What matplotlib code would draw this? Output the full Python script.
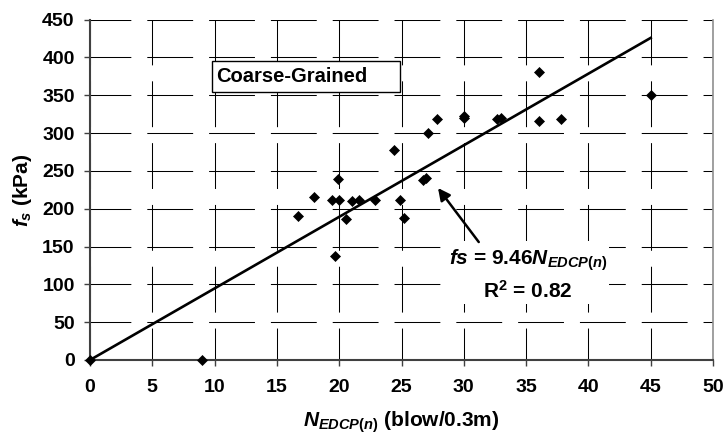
import numpy as np
import matplotlib
matplotlib.use("Agg")
import matplotlib.pyplot as plt
from matplotlib.patches import Rectangle

# datos
n_edcp = [0, 9, 16.7, 18.0, 19.9, 19.45, 20.0, 20.55, 19.7, 21.0, 21.6, 22.9,
          24.4, 24.9, 25.2, 26.7, 27.0, 27.1, 27.85, 30.0, 30.0, 32.7, 33.0,
          36.0, 36.0, 37.8, 45.0]
fs_kpa = [0, 0, 190, 215, 239, 212, 212, 186, 138, 210, 212, 212,
          278, 212, 188, 238, 240, 300, 318, 320, 323, 318, 320,
          316, 380, 318, 350]
slope = 9.46
r2 = 0.82
fit_x = [0, 45]
x_ticks = list(range(0, 51, 5))
y_ticks = list(range(0, 451, 50))

plt.rcParams["font.family"] = ["Liberation Sans", "DejaVu Sans"]
plt.rcParams["font.weight"] = "bold"
plt.rcParams["mathtext.fontset"] = "custom"
plt.rcParams["mathtext.rm"] = "Liberation Sans:bold"
plt.rcParams["mathtext.it"] = "Liberation Sans:italic:bold"
plt.rcParams["mathtext.bf"] = "Liberation Sans:bold"
plt.rcParams["lines.scale_dashes"] = False

fig = plt.figure(figsize=(7.24, 4.34), dpi=100)
ax = fig.add_axes([90 / 724, 74 / 434, 623 / 724, 340.5 / 434])

ax.set_xlim(0, 50)
ax.set_ylim(0, 450)
ax.set_xticks(x_ticks)
ax.set_yticks(y_ticks)
ax.set_axisbelow(True)

# grilla cortada (lineas largas con huecos)
ax.xaxis.grid(True, color="black", linewidth=0.75, linestyle=(10, (33, 11.5)))
ax.yaxis.grid(True, color="black", linewidth=0.75, linestyle=(3.6, (33, 11.5)))

for side in ("left", "bottom"):
    ax.spines[side].set_color("#404040")
    ax.spines[side].set_linewidth(1.5)
ax.spines["top"].set_visible(False)
ax.spines["right"].set_color("#909090")
ax.spines["right"].set_linewidth(1.2)

ax.tick_params(axis="both", direction="out", length=4, width=1, color="#404040",
               labelsize=14)
ax.tick_params(axis="x", pad=10)
ax.tick_params(axis="y", pad=7)

# recta de ajuste
fx = np.array(fit_x, dtype=float)
ax.plot(fx, slope * fx, color="black", linewidth=1.9, zorder=3)

# puntos
ax.plot(n_edcp, fs_kpa, linestyle="none", marker="D", markersize=4.7,
        markerfacecolor="black", markeredgecolor="black", markeredgewidth=0.5,
        zorder=4, clip_on=False)

# cuadro de texto
ax.add_patch(Rectangle((9.8, 354), 15.1, 41, facecolor="white", edgecolor="black",
                       linewidth=1, zorder=5))
ax.text(10.1, 374.6, "Coarse-Grained", fontsize=14.5, fontweight="bold",
        va="center", ha="left", zorder=6)

# ecuacion y flecha
ax.text(35.15, 113, "$fs$ = 9.46$N_{EDCP(n)}$\nR$^2$ = 0.82", fontsize=15,
        fontweight="bold", ha="center", va="center", linespacing=1.4, zorder=6,
        bbox=dict(boxstyle="square,pad=0.1", facecolor="white", edgecolor="none"))
ax.annotate("", xy=(27.93, 227.3), xytext=(31.2, 155.9),
            arrowprops=dict(arrowstyle="-|>", color="black", lw=1.8,
                            mutation_scale=18, shrinkA=0, shrinkB=0), zorder=6)

ax.set_xlabel("$N_{EDCP(n)}$ (blow/0.3m)", fontsize=15, fontweight="bold")
ax.set_ylabel("$f_s$ (kPa)", fontsize=15, fontweight="bold")
ax.xaxis.set_label_coords(0.5, -0.182)
ax.xaxis.label.set_va("center")
ax.yaxis.set_label_coords(-0.109, 0.5)
ax.yaxis.label.set_va("center")
ax.yaxis.label.set_ha("center")

fig.savefig("out.png", dpi=100)
